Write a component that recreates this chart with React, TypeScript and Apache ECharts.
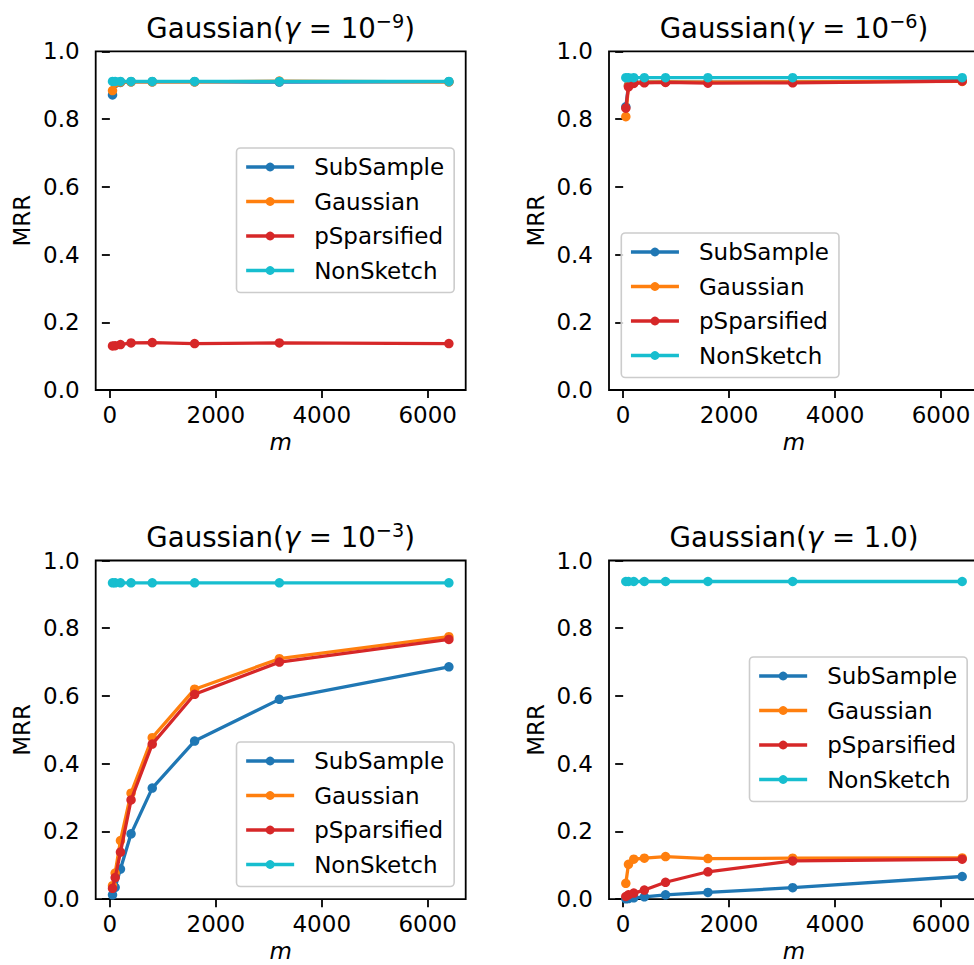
import React, { useEffect, useRef } from "react";
import * as echarts from "echarts";

const FONT = "DejaVu Sans";

const xValues = [50, 100, 200, 400, 800, 1600, 3200, 6400];
const seriesNames = ["SubSample", "Gaussian", "pSparsified", "NonSketch"];
const seriesColors = ["#1f77b4", "#ff7f0e", "#d62728", "#17becf"];
const xTickValues = [0, 2000, 4000, 6000];

// Gaussian(gamma = 1e-9)
const sub1 = [0.871, 0.905, 0.908, 0.91, 0.91, 0.91, 0.909, 0.91];
const gau1 = [0.884, 0.907, 0.909, 0.91, 0.91, 0.91, 0.912, 0.91];
const psp1 = [0.13, 0.131, 0.134, 0.139, 0.14, 0.137, 0.139, 0.137];
const non1 = [0.911, 0.911, 0.911, 0.911, 0.911, 0.911, 0.911, 0.911];

// Gaussian(gamma = 1e-6)
const sub2 = [0.836, 0.9, 0.908, 0.91, 0.91, 0.909, 0.91, 0.913];
const gau2 = [0.807, 0.898, 0.907, 0.909, 0.91, 0.909, 0.91, 0.911];
const psp2 = [0.832, 0.895, 0.905, 0.907, 0.908, 0.906, 0.907, 0.912];
const non2 = [0.922, 0.922, 0.922, 0.922, 0.922, 0.922, 0.922, 0.922];

// Gaussian(gamma = 1e-3)
const sub3 = [0.013, 0.035, 0.089, 0.193, 0.328, 0.467, 0.59, 0.686];
const gau3 = [0.04, 0.077, 0.173, 0.313, 0.477, 0.62, 0.71, 0.775];
const psp3 = [0.032, 0.064, 0.139, 0.293, 0.458, 0.605, 0.7, 0.767];
const non3 = [0.934, 0.934, 0.934, 0.934, 0.934, 0.934, 0.934, 0.934];

// Gaussian(gamma = 1.0)
const sub4 = [0.001, 0.002, 0.004, 0.007, 0.013, 0.02, 0.034, 0.067];
const gau4 = [0.047, 0.103, 0.118, 0.121, 0.126, 0.12, 0.121, 0.122];
const psp4 = [0.008, 0.013, 0.018, 0.027, 0.05, 0.081, 0.113, 0.118];
const non4 = [0.938, 0.938, 0.938, 0.938, 0.938, 0.938, 0.938, 0.938];

const panelTitles = [
  "{n|Gaussian(}{g|γ}{n| = 10}{s|−9}{n|)}",
  "{n|Gaussian(}{g|γ}{n| = 10}{s|−6}{n|)}",
  "{n|Gaussian(}{g|γ}{n| = 10}{s|−3}{n|)}",
  "{n|Gaussian(}{g|γ}{n| = 1.0)}",
];
const panelData = [
  [sub1, gau1, psp1, non1],
  [sub2, gau2, psp2, non2],
  [sub3, gau3, psp3, non3],
  [sub4, gau4, psp4, non4],
];

// layout (pixels)
const GW = 370;
const GH = 338.7;
const gridPos = [
  [95.7, 51.3],
  [609, 51.3],
  [95.7, 560.5],
  [609, 560.5],
];
const legendPos = [
  [236.5, 148],
  [621.3, 233],
  [236.5, 742],
  [749.5, 657],
];
const titleTop = [12, 12, 521, 521];

export default function App() {
  const ref = useRef<HTMLDivElement>(null);
  useEffect(() => {
    if (!ref.current) return;
    const chart = echarts.init(ref.current, undefined, { renderer: "svg" });
    const xMin = 50 - 0.05 * (6400 - 50);
    const xMax = 6400 + 0.05 * (6400 - 50);

    const grids = gridPos.map(([l, t]) => ({
      left: l,
      top: t,
      width: GW,
      height: GH,
      show: true,
      borderColor: "#000",
      borderWidth: 1.8,
      backgroundColor: "transparent",
      containLabel: false,
      outerBoundsMode: "none",
    }));

    const xAxes = gridPos.map((_, i) => ({
      type: "value",
      gridIndex: i,
      min: xMin,
      max: xMax,
      name: "m",
      nameLocation: "middle",
      nameGap: 43,
      nameTextStyle: {
        fontFamily: FONT,
        fontSize: 23,
        fontStyle: "italic",
        color: "#000",
        lineHeight: 17,
      },
      axisLine: { show: false },
      splitLine: { show: false },
      axisTick: {
        show: true,
        inside: false,
        length: 8,
        lineStyle: { color: "#000", width: 1.8 },
        customValues: xTickValues,
      },
      axisLabel: {
        show: true,
        margin: 13,
        fontFamily: FONT,
        fontSize: 23,
        color: "#000",
        customValues: xTickValues,
        formatter: (v: number) => String(v),
      },
    }));

    const yAxes = gridPos.map((_, i) => ({
      type: "value",
      gridIndex: i,
      min: 0,
      max: 1,
      interval: 0.2,
      name: "MRR",
      nameLocation: "middle",
      nameGap: 62,
      nameTextStyle: { fontFamily: FONT, fontSize: 23, color: "#000" },
      axisLine: { show: false },
      splitLine: { show: false },
      axisTick: { show: true, inside: false, length: 8, lineStyle: { color: "#000", width: 1.8 } },
      axisLabel: {
        show: true,
        margin: 16,
        fontFamily: FONT,
        fontSize: 23,
        color: "#000",
        formatter: (v: number) => v.toFixed(1),
      },
    }));

    const series: any[] = [];
    panelData.forEach((group, p) => {
      group.forEach((vals, k) => {
        series.push({
          type: "line",
          name: seriesNames[k],
          xAxisIndex: p,
          yAxisIndex: p,
          data: xValues.map((x, j) => [x, vals[j]]),
          symbol: "circle",
          symbolSize: 9.5,
          showSymbol: true,
          color: seriesColors[k],
          lineStyle: { width: 3.3, color: seriesColors[k] },
          itemStyle: { color: seriesColors[k] },
          emphasis: { disabled: true },
          z: 2 + k * 0.01,
        });
      });
    });

    const legends = legendPos.map(([l, t]) => ({
      show: true,
      orient: "vertical",
      left: l,
      top: t,
      data: seriesNames,
      itemWidth: 48,
      itemHeight: 11,
      itemGap: 10.5,
      padding: [7, 10, 10, 8],
      backgroundColor: "rgba(255,255,255,0.8)",
      borderColor: "#cccccc",
      borderWidth: 1.6,
      borderRadius: 4,
      selectedMode: false,
      lineStyle: { width: 3.3 },
      textStyle: {
        fontFamily: FONT,
        fontSize: 23,
        color: "#000",
        lineHeight: 24,
        padding: [0, 0, 0, 15],
      },
    }));

    const richBase = { fontFamily: FONT, fontSize: 27.6, lineHeight: 32, color: "#000" };
    const titles = panelTitles.map((t, i) => ({
      text: t,
      left: gridPos[i][0] + GW / 2,
      top: titleTop[i],
      textAlign: "center",
      padding: 0,
      textStyle: {
        fontFamily: FONT,
        fontWeight: "normal",
        fontSize: 27.6,
        color: "#000",
        rich: {
          n: { ...richBase },
          g: { ...richBase, fontStyle: "italic" },
          s: { fontFamily: FONT, fontSize: 19.3, lineHeight: 18, color: "#000", verticalAlign: "top" },
        },
      },
    }));

    chart.setOption({
      animation: false,
      backgroundColor: "#fff",
      title: titles,
      grid: grids,
      xAxis: xAxes,
      yAxis: yAxes,
      legend: legends,
      series,
    });
    return () => chart.dispose();
  }, []);

  return (
    <div
      ref={ref}
      style={{ position: "fixed", left: 0, top: 0, width: 974, height: 965, background: "#fff" }}
    />
  );
}
